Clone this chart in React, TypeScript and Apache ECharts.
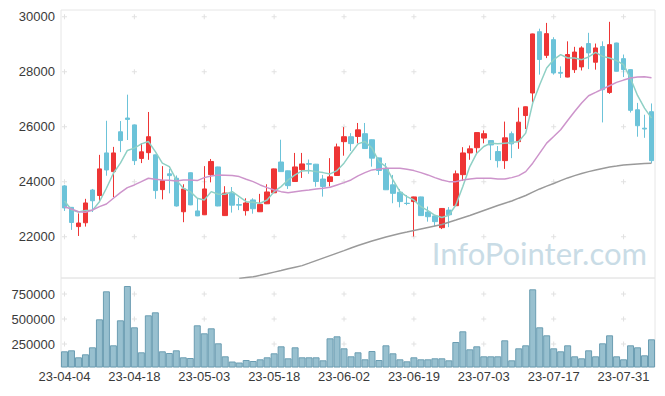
import React, { useEffect, useRef } from 'react';
import * as echarts from 'echarts';

const dates = ['23-04-04','23-04-05','23-04-06','23-04-07','23-04-10','23-04-11','23-04-12','23-04-13','23-04-14','23-04-17','23-04-18','23-04-19','23-04-20','23-04-21','23-04-24','23-04-25','23-04-26','23-04-27','23-04-28','23-05-02','23-05-03','23-05-04','23-05-08','23-05-09','23-05-10','23-05-11','23-05-12','23-05-15','23-05-16','23-05-17','23-05-18','23-05-19','23-05-22','23-05-23','23-05-24','23-05-25','23-05-26','23-05-30','23-05-31','23-06-01','23-06-02','23-06-05','23-06-07','23-06-08','23-06-09','23-06-12','23-06-13','23-06-14','23-06-15','23-06-16','23-06-19','23-06-20','23-06-21','23-06-22','23-06-23','23-06-26','23-06-27','23-06-28','23-06-29','23-06-30','23-07-03','23-07-04','23-07-05','23-07-06','23-07-07','23-07-10','23-07-11','23-07-12','23-07-13','23-07-14','23-07-17','23-07-18','23-07-19','23-07-20','23-07-21','23-07-24','23-07-25','23-07-26','23-07-27','23-07-28','23-07-31','23-08-01','23-08-02','23-08-03','23-08-04'];

const opens = [23850,23070,22370,22510,23700,23500,25050,24370,25820,26320,
  26070,24850,25060,24980,23715,24290,24130,22910,24330,22940,
  22800,24260,24540,22770,23580,23170,22950,23340,22910,23200,
  23600,24720,24400,24010,24440,24660,24640,24100,24010,24230,
  25460,25640,25650,25750,25530,24870,24470,23890,23620,23220,
  23280,23450,22900,22760,22330,22970,23130,24260,25050,25240,
  25590,25500,25100,24770,25750,25460,26410,27230,29460,28600,
  29170,27980,27810,28080,28180,29030,28350,28920,27250,29050,
  28480,28080,26620,25950,26550];
const closes = [23050,22520,22500,23230,23310,24470,24430,25050,25500,26270,
  24770,25090,25640,23680,24040,24225,23120,23740,23160,22760,
  23740,24740,23120,23590,23150,23150,23230,23020,23180,23630,
  24470,24370,23860,24540,24650,24640,24010,23830,24180,25270,
  25640,25390,25890,25210,24860,24410,23710,23580,23280,23210,
  23450,22770,22730,22550,23030,22800,24290,25050,25200,25790,
  25750,25340,24770,25600,25380,26170,26730,29380,28450,29390,
  27960,27950,28630,28720,28870,28690,28870,27350,28990,28020,
  28080,26600,26040,25920,24770];
const lows = [22940,22250,22030,22370,22900,23280,24220,23440,25080,25520,
  24610,24680,24800,23380,23360,23580,23100,22530,23150,22750,
  22790,23980,23110,22760,22880,22970,22770,22840,22900,23190,
  23590,24360,23740,24000,24140,24290,23820,23460,23830,24220,
  24950,25120,25400,25200,24550,24250,23700,23220,23070,23150,
  22010,22760,22550,22390,22280,22350,23120,24030,24800,25040,
  25400,24790,24520,24470,24860,25200,25920,26900,27900,28500,
  27900,27780,27800,27960,28050,28100,28080,26160,27200,28010,
  27810,26520,25640,25600,24680];
const highs = [23880,23080,22850,23380,23740,24980,26220,25270,26210,27170,
  26080,25410,26540,24990,24570,24470,24230,23910,24340,23400,
  24570,24830,24550,23840,23810,23420,23400,23400,23560,23910,
  24480,25530,24410,25050,25050,24810,24650,24250,24860,25390,
  25990,25770,26140,26140,25540,24880,24680,24250,23740,23520,
  23460,23460,23100,22770,23040,23080,24410,25260,25320,25800,
  25870,25510,25300,26190,25830,26700,26740,29390,29570,29780,
  29260,28200,29110,28910,28930,29420,29030,29110,29820,29060,
  28630,28090,26870,26440,26850];

const ma5 = [23300,22980,22900,22960,22960,23277,23765,24312,24677,25140,
  25224,25380,25465,25100,24677,24554,24068,23765,23642,23400,
  23339,23642,23546,23546,23642,23460,23277,23255,23218,23339,
  23642,23825,24068,24250,24396,24407,24370,24334,24287,24407,
  24677,25041,25380,25465,25224,24736,24554,24068,23642,23460,
  23339,23095,22950,22780,22700,22780,23157,23825,24554,25041,
  25283,25406,25380,25406,25428,25465,25771,26864,27532,28140,
  28443,28626,28505,28505,28443,28541,28710,28563,28505,28407,
  28261,27760,27140,26680,26318];
const ma20 = [23095,23010,22912,22890,22974,23095,23193,23400,23605,23787,
  23886,24006,24130,24093,24068,24057,24032,24068,24068,24043,
  24152,24214,24250,24238,24225,24189,24093,24006,23886,23787,
  23703,23642,23605,23642,23678,23703,23740,23765,23801,23886,
  23970,24068,24214,24334,24432,24469,24494,24494,24494,24457,
  24407,24334,24250,24152,24068,24006,24006,24068,24104,24128,
  24128,24128,24104,24104,24152,24225,24370,24677,25041,25406,
  25647,25891,26230,26558,26864,27131,27252,27375,27495,27616,
  27700,27776,27812,27824,27787];
const ma60 = ['-','-','-','-','-','-','-','-','-','-',
  '-','-','-','-','-','-','-','-','-','-',
  '-','-','-','-','-',20480,20520,20543,20597,20655,
  20714,20772,20834,20893,20950,21040,21133,21224,21315,21406,
  21497,21590,21680,21764,21844,21917,21990,22055,22118,22172,
  22227,22282,22336,22390,22445,22530,22610,22693,22774,22865,
  22956,23047,23138,23222,23302,23404,23503,23623,23740,23842,
  23940,24042,24141,24225,24305,24370,24432,24487,24542,24578,
  24615,24633,24651,24666,24677];

const volumes = [177000,187000,117000,147000,217000,497000,777000,237000,487000,830000,
  417000,167000,537000,567000,177000,160000,187000,117000,110000,437000,
  357000,407000,257000,127000,75000,65000,90000,80000,97000,117000,
  157000,227000,107000,217000,117000,117000,117000,87000,307000,327000,
  207000,127000,167000,97000,180000,90000,237000,157000,97000,77000,
  117000,97000,97000,107000,107000,87000,270000,377000,197000,227000,
  127000,127000,127000,287000,87000,207000,237000,797000,417000,337000,
  207000,177000,237000,127000,107000,187000,127000,257000,337000,127000,
  97000,237000,217000,137000,297000];

const priceTicks = [22000, 24000, 26000, 28000, 30000];
const volumeTicks = [250000, 500000, 750000];
const tickCategoryIdx = [0, 10, 20, 30, 40, 50, 60, 70, 80];

const CROSS = 'path://M2,0H3V2H5V3H3V5H2V3H0V2H2Z';
const FONT = 'Liberation Sans';

function crosses(values: number[]) {
  const out: [number, number][] = [];
  for (const i of tickCategoryIdx) for (const v of values) out.push([i, v]);
  return out;
}

export default function App() {
  const ref = useRef<HTMLDivElement>(null);
  useEffect(() => {
    if (!ref.current) return;
    const chart = echarts.init(ref.current, null, { renderer: 'svg' });
    const candle = opens.map((o, i) => [o, closes[i], lows[i], highs[i]]);
    const labelStyle = { fontFamily: FONT, fontSize: 13, color: '#3a3a3a' };
    chart.setOption({
      animation: false,
      textStyle: { fontFamily: FONT },
      grid: [
        { left: 61, right: 10, top: 10, height: 268, show: true, borderColor: '#e6e6e6', borderWidth: 1, backgroundColor: 'transparent' },
        { left: 61, right: 10, top: 278, height: 89, show: true, borderColor: '#e6e6e6', borderWidth: 1, backgroundColor: 'transparent' },
      ],
      xAxis: [
        { type: 'category', gridIndex: 0, data: dates, boundaryGap: true, axisLine: { show: false }, axisTick: { show: false }, axisLabel: { show: false }, splitLine: { show: false } },
        { type: 'category', gridIndex: 1, data: dates, boundaryGap: true, axisLine: { show: false }, axisTick: { show: false }, splitLine: { show: false },
          axisLabel: { ...labelStyle, interval: 9, margin: 3 } },
      ],
      yAxis: [
        { type: 'value', gridIndex: 0, min: 20500, max: 30250, scale: true, axisLine: { show: false }, axisTick: { show: false }, splitLine: { show: false },
          axisLabel: { ...labelStyle, margin: 6, customValues: priceTicks, formatter: (v: number) => (v % 2000 === 0 ? String(v) : '') } },
        { type: 'value', gridIndex: 1, min: 20000, max: 910000, axisLine: { show: false }, axisTick: { show: false }, splitLine: { show: false },
          axisLabel: { ...labelStyle, margin: 6, customValues: volumeTicks, formatter: (v: number) => (v % 250000 === 0 && v > 0 ? String(v) : '') } },
      ],
      graphic: [
        { type: 'text', right: 18, top: 237, z: 0, silent: true,
          style: { text: 'InfoPointer.com', fontFamily: 'Lato', fontSize: 31, fill: '#c9dce6' } },
      ],
      series: [
        { type: 'scatter', xAxisIndex: 0, yAxisIndex: 0, data: crosses(priceTicks), symbol: CROSS, symbolSize: 5, silent: true, z: 1,
          itemStyle: { color: '#dadada' } },
        { type: 'scatter', xAxisIndex: 1, yAxisIndex: 1, data: crosses(volumeTicks), symbol: CROSS, symbolSize: 5, silent: true, z: 1,
          itemStyle: { color: '#dadada' } },
        { type: 'candlestick', name: 'price', xAxisIndex: 0, yAxisIndex: 0, data: candle, barWidth: 5, z: 3,
          itemStyle: { color: '#ee3535', color0: '#6cc3d9', borderColor: '#ee3535', borderColor0: '#6cc3d9', borderWidth: 1 } },
        { type: 'line', name: 'MA5', xAxisIndex: 0, yAxisIndex: 0, data: ma5, showSymbol: false, z: 4,
          lineStyle: { color: '#8fd0c5', width: 1.5 } },
        { type: 'line', name: 'MA20', xAxisIndex: 0, yAxisIndex: 0, data: ma20, showSymbol: false, z: 4,
          lineStyle: { color: '#cd94cb', width: 1.5 } },
        { type: 'line', name: 'MA60', xAxisIndex: 0, yAxisIndex: 0, data: ma60, showSymbol: false, z: 4,
          lineStyle: { color: '#9a9a9a', width: 1.5 } },
        { type: 'bar', name: 'volume', xAxisIndex: 1, yAxisIndex: 1, data: volumes, barCategoryGap: '0%', z: 3,
          itemStyle: { color: '#98c0cf', borderColor: '#6b9db2', borderWidth: 1 } },
      ],
    });
    return () => chart.dispose();
  }, []);
  return <div ref={ref} style={{ position: 'absolute', left: 0, top: 0, width: 665, height: 396, background: '#fff' }} />;
}
